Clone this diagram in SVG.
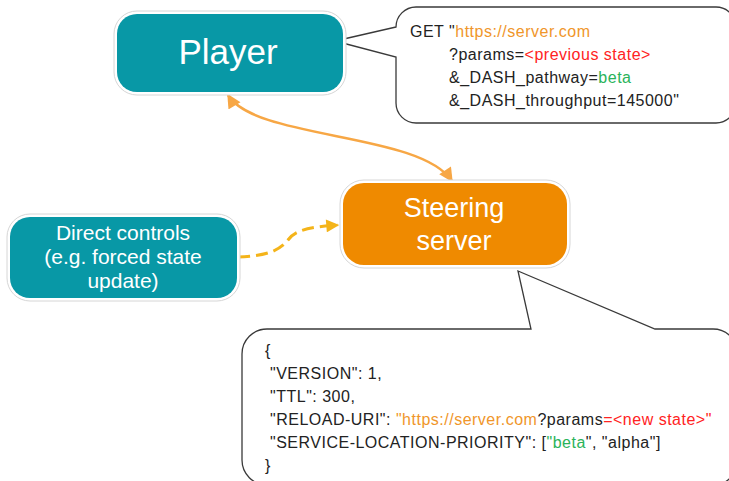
<svg xmlns="http://www.w3.org/2000/svg" width="729" height="481" viewBox="0 0 729 481">
<defs>
<style>
.node-teal{fill:#0898A6}
.node-orange{fill:#EF8A00}
.halo{fill:#ffffff;stroke:#d6d6d6;stroke-width:1}
.ntext{font-family:"Liberation Sans",Arial,sans-serif;fill:#ffffff;text-anchor:middle}
.callout{fill:#ffffff;stroke:#3a3a3a;stroke-width:1.3;stroke-linejoin:miter}
.code{font-family:"Liberation Sans",Arial,sans-serif;font-size:16px;letter-spacing:0.5px;fill:#222222}
.url{fill:#F0962A}
.red{fill:#FF2323}
.green{fill:#2AB35A}
.conn-main{fill:none;stroke:#F7A745;stroke-width:2.5}
.conn-dash{fill:none;stroke:#F4B41A;stroke-width:3;stroke-dasharray:12 6}
</style>
<marker id="arrOrange" viewBox="0 0 10 10" refX="9" refY="5" markerWidth="15" markerHeight="14" markerUnits="userSpaceOnUse" orient="auto-start-reverse">
<path d="M0,0 L10,5 L0,10 z" fill="#F7A745"/>
</marker>
<marker id="arrYellow" viewBox="0 0 10 10" refX="9" refY="5" markerWidth="14" markerHeight="13" markerUnits="userSpaceOnUse" orient="auto">
<path d="M0,0 L10,5 L0,10 z" fill="#F4B41A"/>
</marker>
</defs>
<rect width="729" height="481" fill="#ffffff"/>

<g id="callout-request">
<path class="callout" d="M396,27 L335,41 L396,57 L396,103 A20,20 0 0 0 416,123 L716,123 A20,20 0 0 0 736,103 L736,27 A20,20 0 0 0 716,7 L416,7 A20,20 0 0 0 396,27 Z"/>
<text class="code" x="410" y="37">GET "<tspan class="url">https://server.com</tspan></text>
<text class="code" x="449" y="60">?params=<tspan class="red">&lt;previous state&gt;</tspan></text>
<text class="code" x="449" y="83">&amp;_DASH_pathway=<tspan class="green">beta</tspan></text>
<text class="code" x="449" y="106">&amp;_DASH_throughput=145000"</text>
</g>

<g id="callout-response">
<path class="callout" d="M242,354 A25,25 0 0 1 267,329 L531,329 L518,271 L655,329 L713,329 A25,25 0 0 1 738,354 L738,460 A25,25 0 0 1 713,485 L267,485 A25,25 0 0 1 242,460 Z"/>
<text class="code" x="265" y="356">{</text>
<text class="code" x="270" y="379">"VERSION": 1,</text>
<text class="code" x="270" y="402">"TTL": 300,</text>
<text class="code" x="270" y="425">"RELOAD-URI": <tspan class="url">"https://server.com</tspan>?params<tspan class="red">=&lt;new state&gt;"</tspan></text>
<text class="code" x="270" y="448">"SERVICE-LOCATION-PRIORITY": [<tspan class="green">"beta</tspan>", "alpha"]</text>
<text class="code" x="265" y="471">}</text>
</g>

<g id="connectors">
<path class="conn-main" d="M228,95 C255,140 420,132 452,181" marker-start="url(#arrOrange)" marker-end="url(#arrOrange)"/>
<path class="conn-dash" d="M238,257 C268,256 280,250 288,240 C296,229 312,227 338,225" marker-end="url(#arrYellow)"/>
</g>

<g id="player">
<rect class="halo" x="114" y="11" width="232" height="84" rx="23"/>
<rect class="node-teal" x="117" y="14" width="226" height="78" rx="20"/>
<text class="ntext" x="228" y="64" font-size="35">Player</text>
</g>

<g id="steering-server">
<rect class="halo" x="340" y="180" width="230" height="88" rx="24"/>
<rect class="node-orange" x="343" y="183" width="224" height="82" rx="21"/>
<text class="ntext" x="454" y="217" font-size="27">Steering</text>
<text class="ntext" x="454" y="250" font-size="27">server</text>
</g>

<g id="direct-controls">
<rect class="halo" x="7" y="214" width="233" height="87" rx="23"/>
<rect class="node-teal" x="10" y="217" width="227" height="81" rx="20"/>
<text class="ntext" x="123" y="240" font-size="21">Direct controls</text>
<text class="ntext" x="123" y="264" font-size="21">(e.g. forced state</text>
<text class="ntext" x="123" y="288" font-size="21">update)</text>
</g>
</svg>
